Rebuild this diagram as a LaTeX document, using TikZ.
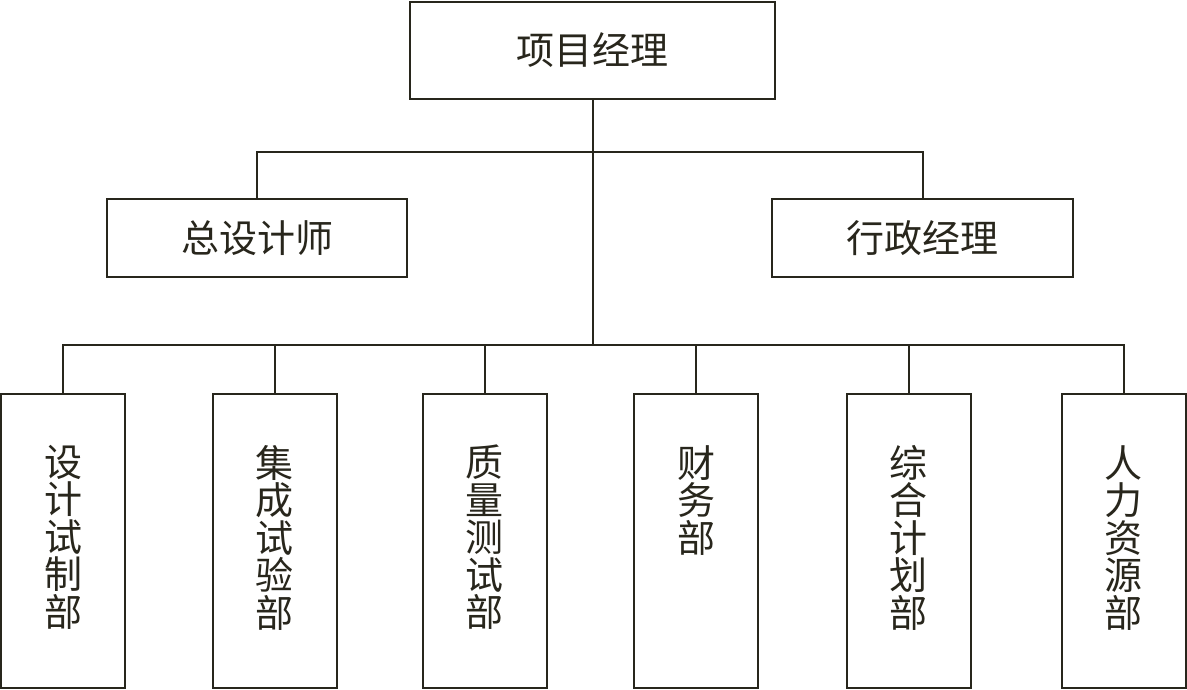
\documentclass[tikz,border=0pt]{standalone}
\usepackage{fontspec}
\newfontfamily\cjk{Noto Sans CJK SC}
\definecolor{inkline}{RGB}{40,38,28}
\tikzset{
  unit/.style={draw=inkline, line width=2pt, inner sep=0pt, text=inkline, font=\cjk\fontsize{38}{38}\selectfont},
  dept/.style={unit, minimum width=124, minimum height=294},
  vtext/.style={anchor=north, inner sep=0pt, yshift=-52, align=center, text=inkline, font=\cjk\fontsize{38}{37.5}\selectfont}
}
\begin{document}
\begin{tikzpicture}[x=1pt, y=-1pt, >=stealth]
\useasboundingbox[fill=white] (0,0) rectangle (1187,690);
\node[unit, minimum width=365, minimum height=97] (pm) at (592.5,50.5) {项目经理};
\node[unit, minimum width=300, minimum height=78] (chief) at (257,238) {总设计师};
\node[unit, minimum width=301, minimum height=78] (admin) at (922.5,238) {行政经理};
\node[dept, label={[vtext]north:设\\计\\试\\制\\部}] (d1) at (63,541) {};
\node[dept, label={[vtext]north:集\\成\\试\\验\\部}] (d2) at (274.5,541) {};
\node[dept, label={[vtext]north:质\\量\\测\\试\\部}] (d3) at (484.5,541) {};
\node[dept, label={[vtext]north:财\\务\\部}] (d4) at (696,541) {};
\node[dept, label={[vtext]north:综\\合\\计\\划\\部}] (d5) at (908.5,541) {};
\node[dept, label={[vtext]north:人\\力\\资\\源\\部}] (d6) at (1123.5,541) {};
\coordinate (bus) at (590,345);
\draw[inkline, line width=2pt] (pm.south) -- (pm.south |- bus);
\draw[inkline, line width=2pt] (chief.north) -- ++(0,-46) -| (admin.north);
\draw[inkline, line width=2pt] (d1.north) -- (d1.north |- bus) -| (d6.north);
\draw[inkline, line width=2pt] (d2.north) -- (d2.north |- bus);
\draw[inkline, line width=2pt] (d3.north) -- (d3.north |- bus);
\draw[inkline, line width=2pt] (d4.north) -- (d4.north |- bus);
\draw[inkline, line width=2pt] (d5.north) -- (d5.north |- bus);
\end{tikzpicture}
\end{document}
